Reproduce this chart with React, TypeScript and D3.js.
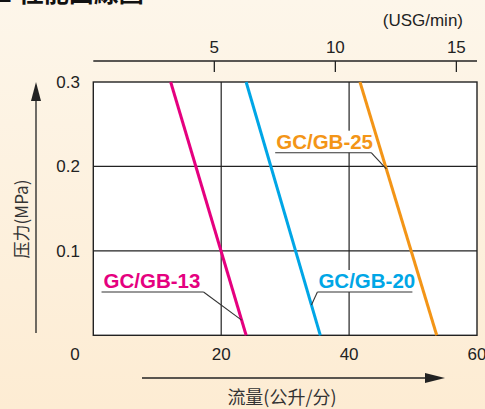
import React from "react";
import * as d3 from "d3";

const W = 485;
const H = 409;

// flow axis (L/min) and pressure axis (MPa)
const flowTicks = [0, 20, 40, 60];
const pressureTicks = [0.1, 0.2, 0.3];
const usgTicks = [5, 10, 15];
const LPM_PER_USG = 3.785;

const seriesNames = ["GC/GB-13", "GC/GB-20", "GC/GB-25"];
const seriesColors = ["#e5007f", "#00a6e6", "#f39517"];
// [flow at 0.3 MPa, flow at 0 MPa]
const seriesFlowTop = [12.1, 23.9, 41.7];
const seriesFlowBottom = [23.9, 35.5, 53.7];
const seriesPressure = [0.3, 0];

// label anchors (in data units): text position, leader target
const labelX = [1.6, 35.2, 28.6];
const labelP = [0.056, 0.056, 0.221];
const leaderTargetP = [0.018, 0.036, 0.197];

export default function App() {
  const x = d3.scaleLinear().domain([0, 60]).range([93.3, 477]);
  const y = d3.scaleLinear().domain([0, 0.3]).range([335.3, 82]);
  const xu = d3.scaleLinear().domain([0, 60 / LPM_PER_USG]).range([93.3, 477]);
  const line = d3
    .line<[number, number]>()
    .x((d) => x(d[0]))
    .y((d) => y(d[1]));

  const font = "'Liberation Sans', Arial, Helvetica, sans-serif";
  const cjk = "'Noto Sans CJK SC', 'Noto Sans CJK TC', sans-serif";

  const flowAt = (i: number, p: number) =>
    seriesFlowBottom[i] + (seriesFlowTop[i] - seriesFlowBottom[i]) * (p / 0.3);

  return (
    <svg
      width={W}
      height={H}
      style={{ position: "absolute", left: 0, top: 0, display: "block" }}
    >
      <defs>
        <linearGradient id="bg" x1="0" y1="0" x2="0" y2="1">
          <stop offset="0" stopColor="#fdf6ea" />
          <stop offset="1" stopColor="#fdecd3" />
        </linearGradient>
      </defs>
      <rect x={0} y={0} width={W} height={H} fill="url(#bg)" />

      {/* cut-off title */}
      <text x={-12} y={2} fontFamily={cjk} fontWeight={700} fontSize={25} fill="#111">
        ■ 性能曲線圖
      </text>

      {/* plot area */}
      <rect
        x={x(0)}
        y={y(0.3)}
        width={x(60) - x(0)}
        height={y(0) - y(0.3)}
        fill="#fff"
      />
      {[20, 40].map((v) => (
        <line key={"gx" + v} x1={x(v)} x2={x(v)} y1={y(0)} y2={y(0.3)} stroke="#222" strokeWidth={1.2} />
      ))}
      {[0.1, 0.2].map((v) => (
        <line key={"gy" + v} x1={x(0)} x2={x(60)} y1={y(v)} y2={y(v)} stroke="#222" strokeWidth={1.2} />
      ))}
      <rect
        x={x(0)}
        y={y(0.3)}
        width={x(60) - x(0)}
        height={y(0) - y(0.3)}
        fill="none"
        stroke="#222"
        strokeWidth={1.4}
      />

      {/* series lines */}
      {seriesNames.map((n, i) => (
        <path
          key={n}
          d={line([
            [seriesFlowTop[i], seriesPressure[0]],
            [seriesFlowBottom[i], seriesPressure[1]],
          ]) as string}
          fill="none"
          stroke={seriesColors[i]}
          strokeWidth={3}
        />
      ))}

      {/* labels with underline + leader */}
      {seriesNames.map((n, i) => {
        const tx = x(labelX[i]);
        const ty = y(labelP[i]);
        const ulY = ty + 4;
        const widths = [102, 95, 96];
        const ux0 = i === 0 ? tx - 2 : tx - 1;
        const ux1 = ux0 + widths[i];
        const lp = leaderTargetP[i];
        const tgtX = x(flowAt(i, lp));
        const tgtY = y(lp);
        const startX = i === 1 ? ux0 : ux1;
        return (
          <g key={"lab" + n}>
            <rect x={ux0} y={ty - 18} width={widths[i]} height={22} fill="#fff" />
            <text x={tx} y={ty} fontFamily={font} fontWeight={700} fontSize={20.5} fill={seriesColors[i]}>
              {n}
            </text>
            <line x1={ux0} x2={ux1} y1={ulY} y2={ulY} stroke="#333" strokeWidth={1.1} />
            <line x1={startX} y1={ulY} x2={tgtX} y2={tgtY} stroke="#333" strokeWidth={1.1} />
          </g>
        );
      })}

      {/* left tick labels */}
      {pressureTicks.map((v) => (
        <text key={"yt" + v} x={80} y={y(v) + 6} textAnchor="end" fontFamily={font} fontSize={17} fill="#222">
          {v.toFixed(1)}
        </text>
      ))}
      {/* bottom tick labels */}
      {flowTicks.map((v) => (
        <text
          key={"xt" + v}
          x={v === 0 ? 75 : x(v)}
          y={360}
          textAnchor="middle"
          fontFamily={font}
          fontSize={17}
          fill="#222"
        >
          {v}
        </text>
      ))}

      {/* top USG axis */}
      <line x1={x(0)} x2={x(60)} y1={61} y2={61} stroke="#222" strokeWidth={1.3} />
      {usgTicks.map((v) => (
        <g key={"ut" + v}>
          <line x1={xu(v)} x2={xu(v)} y1={61} y2={72} stroke="#222" strokeWidth={1.3} />
          <text x={xu(v)} y={53} textAnchor="middle" fontFamily={font} fontSize={17} fill="#222">
            {v}
          </text>
        </g>
      ))}
      <text x={463} y={26} textAnchor="end" fontFamily={font} fontSize={17} fill="#222">
        (USG/min)
      </text>

      {/* y axis arrow */}
      <line x1={36} x2={36} y1={333} y2={98} stroke="#222" strokeWidth={1.3} />
      <path d="M36,82 L31,101 L41,101 Z" fill="#222" />
      <text
        transform="translate(28,219) rotate(-90)"
        textAnchor="middle"
        fontFamily={cjk}
        fontSize={17}
        fill="#333"
      >
        压力(MPa)
      </text>

      {/* x axis arrow */}
      <line x1={142} x2={428} y1={378} y2={378} stroke="#222" strokeWidth={1.3} />
      <path d="M445,378 L425,373 L425,383 Z" fill="#222" />
      <text x={282} y={404} textAnchor="middle" fontFamily={cjk} fontSize={18} fill="#333">
        流量(公升/分)
      </text>
    </svg>
  );
}
